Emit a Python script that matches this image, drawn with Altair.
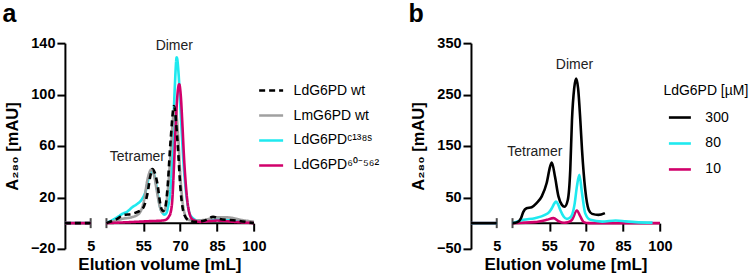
import altair as alt
import pandas as pd

FONT = "Liberation Sans"

# ---------------- Panel a ----------------
A_SERIES = ["LdG6PD wt", "LmG6PD wt", "LdG6PDᶜ¹³⁸ˢ", "LdG6PD⁶⁰⁻⁵⁶²"]
A_COLORS = ["#000000", "#a0a0a0", "#1fe9ef", "#d1006b"]
A_DASH = [[6, 4], [1, 0], [1, 0], [1, 0]]
A_DRAW_ORDER = ["LdG6PDᶜ¹³⁸ˢ", "LmG6PD wt", "LdG6PD⁶⁰⁻⁵⁶²", "LdG6PD wt"]

a_wt_x = [40, 42, 44.5, 46.5, 50.5, 54.6, 55.8, 56.7, 57.8, 58.7, 59.7, 60.7, 62.1, 63.0, 63.9,
          64.8, 66.1, 67.5, 68.9, 70.2, 71.6, 73.6, 76.3, 80, 83.4, 86, 93, 100]
a_wt_y = [0, 1.5, 3.5, 6, 7.3, 11, 16, 23, 36, 42, 39, 31, 13, 9.5, 12,
          26, 64, 91, 64, 25, 7, 2, 1, 2, 5, 3.3, 2, 0]

a_lm_x = [40, 43, 46.5, 50.5, 53.2, 55.3, 56.6, 57.6, 58.4, 59.3, 60.5, 61.7, 62.7, 63.7, 65,
          66.3, 67.3, 68.1, 69.1, 70.2, 71.5, 73, 75, 80, 84, 89, 95, 100]
a_lm_y = [0, 1.5, 3.4, 4.7, 7.3, 17.6, 33, 40, 42, 38, 25, 13, 8.5, 10, 26,
          60, 85, 89, 70, 33, 10, 3, 2, 2.5, 4.5, 4.5, 2.5, 1]

a_c138_x = [40, 42, 44.5, 46.5, 48.5, 50.5, 52.6, 54.6, 56, 57.3, 58.4, 59.5, 60.7, 61.9, 62.8,
            63.6, 64.3, 65, 66.3, 67.0, 67.8, 68.6, 69.4, 70.1, 71.5, 72.8, 74.2, 77, 80, 83,
            88, 95, 100]
a_c138_y = [0, 2, 4.7, 7.3, 9, 12.4, 15, 19, 25, 36, 41, 37, 25, 12, 8,
            6.6, 7.5, 12, 33, 64, 105, 129, 115, 90, 43, 17.5, 6, 2, 1.5, 3,
            2.5, 1.5, 0.5]

a_60_x = [40, 46, 51.8, 57, 62.7, 64.5, 65.4, 66.1, 66.8, 67.5, 68.2, 68.9, 69.6, 70.3, 70.9,
          71.6, 72.3, 73, 73.6, 75, 78, 85, 92, 100]
a_60_y = [0, 0.5, 1, 1.5, 2, 3, 5, 8, 18, 45, 77, 100, 108, 98, 77,
          50, 30, 16, 9, 3, 1, 2, 1, 0]

A_ANNOT_TEXT = ["Dimer", "Tetramer"]
A_ANNOT_X = [67.6, 52.6]
A_ANNOT_Y = [137.5, 51.3]
A_Y_TICKS = [-20, 20, 60, 100, 140]
A_Y_DOMAIN = [-20, 140]

# ---------------- Panel b ----------------
B_SERIES = ["300", "80", "10"]
B_COLORS = ["#000000", "#1fe9ef", "#d1006b"]
B_DRAW_ORDER = ["10", "80", "300"]

b_300_x = [40, 42, 43.5, 44.4, 45.7, 47.8, 49.8, 51.9, 53.9, 55.3, 56, 57.3, 58.7, 60.1, 61.2,
           62.5, 63.5, 64.2, 65.1, 65.9, 66.7, 67.6, 68.3, 69.6, 71, 72.4, 75, 77.6]
b_300_y = [0, 2, 10, 22, 29, 31, 39, 52, 78, 110, 118, 90, 52, 35.5, 32,
           45, 103, 200, 262, 281, 262, 200, 142, 65, 26, 18, 16, 19.4]

b_80_x = [40, 44.4, 49.1, 53.2, 55, 56, 57, 57.7, 58.5, 59.4, 60.8, 62.1, 63.2, 64.2, 65.3,
          66.2, 67.2, 68.3, 69.6, 71.7, 76.5, 82, 86, 90, 97]
b_80_y = [0, 6.4, 9.7, 16, 22, 29, 38, 42, 37, 26, 13, 8.3, 10, 16, 38,
          71, 94, 58, 19, 6.4, 3, 5, 3.5, 2, 1]

b_10_x = [40, 49, 53.9, 56.7, 58.7, 61, 62.5, 64.2, 66.2, 67.6, 69, 71, 80, 90, 100]
b_10_y = [0, 2, 6.4, 9.7, 4, 0.6, 1.5, 6.4, 24.5, 13, 2, 0, 0, 0, 0]

B_ANNOT_TEXT = ["Dimer", "Tetramer"]
B_ANNOT_X = [65.2, 49.1]
B_ANNOT_Y = [307, 139]
B_Y_TICKS = [-50, 50, 150, 250, 350]
B_Y_DOMAIN = [-50, 350]

# ---------------- shared axis pieces ----------------
LEFT_X = [0, 5]
LEFT_Y = [0, 0]
X_BREAK_DOMAIN = [0, 5, 40, 100]
X_TICKS = [5, 55, 70, 85, 100]
AXIS_SEG_START = [0, 40]
AXIS_SEG_END = [5, 100]
CAP_X = [5, 40]

PLOT_W = 189.2
PLOT_H = 206
X_RANGE = [0, 25.8, 41.6, PLOT_W]


def series_frame(name, xs, ys):
    rows = [dict(x=x, y=y, series=name, seg="L") for x, y in zip(LEFT_X, LEFT_Y)]
    rows += [dict(x=x, y=y, series=name, seg="R") for x, y in zip(xs, ys)]
    return pd.DataFrame(rows)


def x_enc(field="x"):
    return alt.X(
        f"{field}:Q",
        scale=alt.Scale(domain=X_BREAK_DOMAIN, range=X_RANGE, nice=False, zero=False),
        axis=alt.Axis(
            values=X_TICKS, title="Elution volume [mL]", domain=False, grid=False,
            offset=-PLOT_H / 8, tickSize=8, tickWidth=2, tickColor="black",
            tickOpacity={"condition": {"test": "datum.value === 5", "value": 0}, "value": 1},
            labelPadding=8, labelFontSize=14.5, labelFontWeight="bold", labelColor="black",
            labelFlush=False, labelOverlap=False,
            titleFontSize=17, titleFontWeight="bold", titleColor="black", titlePadding=4,
        ),
    )


def y_enc(domain, ticks, field="y"):
    return alt.Y(
        f"{field}:Q",
        scale=alt.Scale(domain=domain, nice=False, zero=False),
        axis=alt.Axis(
            values=ticks, title="A₂₈₀ [mAU]", grid=False, domainColor="black", domainWidth=2,
            tickSize=8, tickWidth=2, tickColor="black", labelPadding=2,
            labelFontSize=14.5, labelFontWeight="bold", labelColor="black",
            titleFontSize=16.5, titleFontWeight="bold", titleColor="black", titlePadding=10,
        ),
    )


def panel(series_data, names, colors, dashes, draw_order, legend, annot, y_domain, y_ticks, letter):
    layers = []
    for nm in draw_order:
        xs, ys = series_data[nm]
        df = series_frame(nm, xs, ys)
        enc = dict(
            x=x_enc(), y=y_enc(y_domain, y_ticks),
            color=alt.Color("series:N", scale=alt.Scale(domain=names, range=colors), legend=legend),
            detail="seg:N",
        )
        if dashes is not None:
            enc["strokeDash"] = alt.StrokeDash("series:N", scale=alt.Scale(domain=names, range=dashes), legend=legend)
        layers.append(
            alt.Chart(df).mark_line(strokeWidth=2.6, interpolate="monotone").encode(**enc)
        )
    axis_df = pd.DataFrame({"x0": AXIS_SEG_START, "x1": AXIS_SEG_END, "y": [0, 0]})
    axis_line = alt.Chart(axis_df).mark_rule(color="black", strokeWidth=2).encode(
        x=x_enc("x0"), x2="x1:Q", y=y_enc(y_domain, y_ticks)
    )
    cap_df = pd.DataFrame({"x": CAP_X, "y": [0, 0]})
    caps = alt.Chart(cap_df).mark_tick(orient="vertical", size=10, thickness=2, color="black").encode(
        x=x_enc(), y=y_enc(y_domain, y_ticks)
    )
    ann_df = pd.DataFrame({"x": annot[1], "y": annot[2], "t": annot[0]})
    ann = alt.Chart(ann_df).mark_text(fontSize=14, color="#222222", font=FONT).encode(
        x=x_enc(), y=y_enc(y_domain, y_ticks), text="t:N"
    )
    return alt.layer(axis_line, caps, *layers, ann).properties(
        width=PLOT_W, height=PLOT_H,
        title=alt.TitleParams(letter, anchor="start", fontSize=25, fontWeight="bold",
                              font=FONT, color="black", offset=8, dx=-2),
    )


legend_a = alt.Legend(
    title=None, orient="none", legendX=193, legendY=34, symbolType="stroke",
    symbolSize=576, symbolStrokeWidth=2.6, labelFontSize=14, labelColor="black",
    labelOffset=9, rowPadding=4, padding=0, labelFont=FONT,
)
legend_b = alt.Legend(
    title="LdG6PD [µM]", orient="none", legendX=192.7, legendY=41, symbolType="stroke",
    symbolSize=484, symbolStrokeWidth=2.6, labelFontSize=14, labelColor="black",
    labelOffset=13, rowPadding=6, padding=0, symbolOffset=4, titleFontSize=14,
    titleFontWeight="normal", titleColor="black", titlePadding=7, labelFont=FONT, titleFont=FONT,
)

pa = panel(
    {"LdG6PD wt": (a_wt_x, a_wt_y), "LmG6PD wt": (a_lm_x, a_lm_y),
     "LdG6PDᶜ¹³⁸ˢ": (a_c138_x, a_c138_y), "LdG6PD⁶⁰⁻⁵⁶²": (a_60_x, a_60_y)},
    A_SERIES, A_COLORS, A_DASH, A_DRAW_ORDER, legend_a,
    (A_ANNOT_TEXT, A_ANNOT_X, A_ANNOT_Y), A_Y_DOMAIN, A_Y_TICKS, "a",
)
pb = panel(
    {"300": (b_300_x, b_300_y), "80": (b_80_x, b_80_y), "10": (b_10_x, b_10_y)},
    B_SERIES, B_COLORS, None, B_DRAW_ORDER, legend_b,
    (B_ANNOT_TEXT, B_ANNOT_X, B_ANNOT_Y), B_Y_DOMAIN, B_Y_TICKS, "b",
)

chart = alt.hconcat(pa, pb, spacing=216.6, bounds="flush").resolve_scale(
    color="independent", strokeDash="independent"
).properties(
    padding={"left": 2, "top": 2, "right": 0, "bottom": 0},
    background="white",
).configure_view(stroke=None).configure_axis(
    labelFont=FONT, titleFont=FONT
).configure_text(font=FONT)

chart.save("out.html", embed_options={"renderer": "svg", "actions": False})
